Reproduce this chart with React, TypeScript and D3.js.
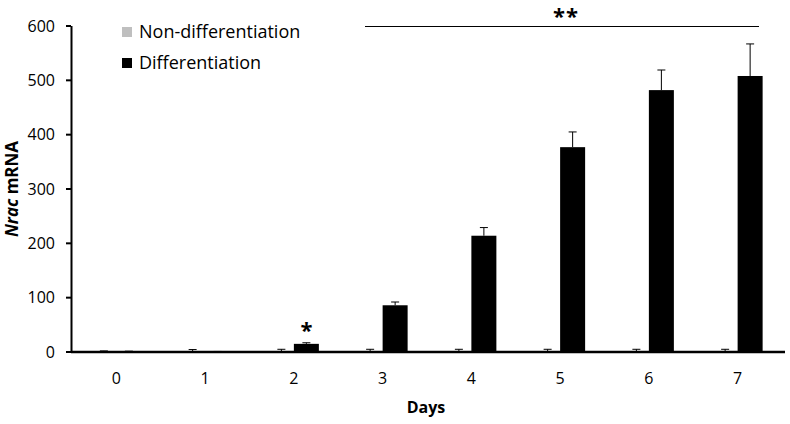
import React from "react";
import * as d3 from "d3";

const days = ["0", "1", "2", "3", "4", "5", "6", "7"];
const nonDiff = [1, 0.5, 1, 1, 1, 1, 1, 1];
const nonDiffErr = [1, 4, 4, 4, 4, 4, 4, 4];
const diff = [1, 0.5, 15, 86, 214, 377, 482, 508];
const diffErr = [0.5, 0.5, 2, 6, 15, 28, 37, 59];
const yTicks = [0, 100, 200, 300, 400, 500, 600];
const seriesNames = ["Non-differentiation", "Differentiation"];
const seriesColors = ["#bfbfbf", "#000000"];

const W = 790;
const H = 424;
const font = "'Open Sans', 'Noto Sans', sans-serif";

export default function App() {
  const x = d3.scaleBand<string>().domain(days).range([72, 782]).paddingInner(0).paddingOuter(0);
  const y = d3.scaleLinear().domain([0, 600]).range([352, 26]);
  const barW = 25;
  const series = [
    { v: nonDiff, e: nonDiffErr },
    { v: diff, e: diffErr },
  ];
  const center = (d: string) => (x(d) as number) + x.bandwidth() / 2;

  return (
    <svg width={W} height={H} style={{ position: "absolute", left: 0, top: 0, background: "#fff" }} fontFamily={font}>
      {series.map((s, si) =>
        days.map((d, i) => {
          const bx = center(d) - barW + si * barW;
          const top = y(s.v[i]);
          const etop = y(s.v[i] + s.e[i]);
          const cx = bx + barW / 2;
          return (
            <g key={`${si}-${i}`}>
              <rect x={bx} y={top} width={barW} height={y(0) - top} fill={seriesColors[si]} />
              <line x1={cx} x2={cx} y1={top} y2={etop} stroke="#000" strokeWidth={1} />
              <line x1={cx - 4} x2={cx + 4} y1={etop} y2={etop} stroke="#000" strokeWidth={1} />
            </g>
          );
        })
      )}
      <line x1={71.5} x2={71.5} y1={y(600)} y2={y(0)} stroke="#000" strokeWidth={2} />
      {yTicks.map((t) => (
        <g key={t}>
          <line x1={66} x2={71} y1={y(t)} y2={y(t)} stroke="#000" strokeWidth={2} />
          <text x={55} y={y(t)} dy="0.35em" textAnchor="end" fontSize={16} fill="#000">
            {t}
          </text>
        </g>
      ))}
      <line x1={71} x2={785} y1={y(0)} y2={y(0)} stroke="#000" strokeWidth={2.5} />
      {days.map((d) => (
        <text key={d} x={center(d)} y={384} textAnchor="middle" fontSize={16} fill="#000">
          {d}
        </text>
      ))}
      <text x={426} y={413} textAnchor="middle" fontSize={16} fontWeight="bold" fill="#000">
        Days
      </text>
      <text transform={`translate(18,189) rotate(-90)`} textAnchor="middle" fontSize={17} fontWeight="bold" fill="#000">
        <tspan fontStyle="italic">Nrac</tspan> mRNA
      </text>
      {seriesNames.map((n, i) => (
        <g key={n}>
          <rect x={122} y={27 + i * 31} width={10} height={10} fill={seriesColors[i]} />
          <text x={139} y={32 + i * 31} dy="0.35em" fontSize={18} fill="#000">
            {n}
          </text>
        </g>
      ))}
      <line x1={365} x2={759} y1={26.5} y2={26.5} stroke="#000" strokeWidth={1} />
      <text x={566} y={24} textAnchor="middle" fontSize={22} fontWeight="bold" letterSpacing={1} fill="#000">
        **
      </text>
      <text x={center("2") + barW / 2} y={338} textAnchor="middle" fontSize={22} fontWeight="bold" fill="#000">
        *
      </text>
    </svg>
  );
}
